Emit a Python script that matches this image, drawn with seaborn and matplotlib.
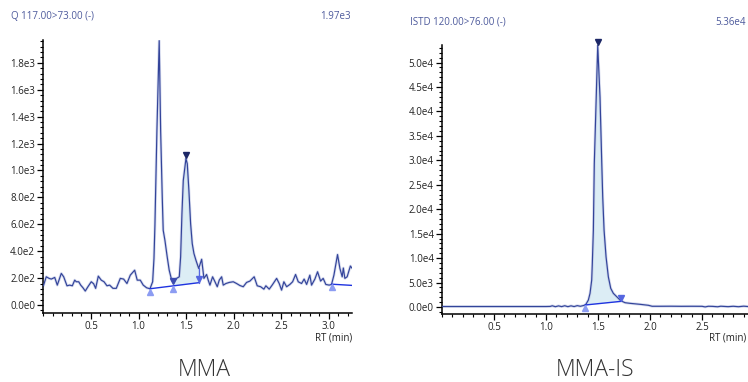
import numpy as np
import matplotlib
matplotlib.use("Agg")
import matplotlib.pyplot as plt
import seaborn as sns
from matplotlib.ticker import FuncFormatter, MultipleLocator, FixedLocator

sns.set_theme(style="ticks")
plt.rcParams["font.family"] = ["Open Sans", "DejaVu Sans"]

# ===========================
# DATA
# ===========================

# MMA trace (Q 117.00>73.00)
mma_rt = [0.0, 0.03, 0.06, 0.083, 0.119, 0.146, 0.188, 0.213, 0.248, 0.276,
          0.304, 0.329, 0.346, 0.371, 0.392, 0.416, 0.44, 0.468, 0.503, 0.528,
          0.549, 0.577, 0.608, 0.637, 0.668, 0.696, 0.731, 0.766, 0.808, 0.843,
          0.878, 0.913, 0.959, 0.986, 1.018, 1.049, 1.085, 1.12, 1.148, 1.162,
          1.172, 1.193, 1.217, 1.232, 1.249, 1.259, 1.277, 1.301, 1.322, 1.348,
          1.365, 1.40, 1.428, 1.442, 1.456, 1.47, 1.498, 1.512, 1.529, 1.547,
          1.564, 1.582, 1.603, 1.632, 1.663, 1.687, 1.715, 1.732, 1.75, 1.778,
          1.803, 1.827, 1.848, 1.873, 1.89, 1.918, 1.953, 1.995, 2.03, 2.065,
          2.10, 2.135, 2.17, 2.215, 2.247, 2.283, 2.317, 2.338, 2.373, 2.404,
          2.451, 2.478, 2.503, 2.527, 2.556, 2.59, 2.619, 2.65, 2.678, 2.713,
          2.74, 2.766, 2.80, 2.818, 2.853, 2.881, 2.913, 2.94, 2.968, 3.003,
          3.028, 3.053, 3.091, 3.116, 3.14, 3.152, 3.168, 3.192, 3.226, 3.243]
mma_int = [143, 210, 198, 193, 205, 148, 235, 210, 143, 148,
           143, 185, 173, 173, 148, 128, 104, 136, 173, 158,
           124, 215, 185, 173, 143, 148, 124, 124, 198, 193,
           160, 222, 259, 185, 185, 148, 128, 121, 173, 346,
           593, 1300, 1965, 1296, 802, 556, 481, 358, 259, 185,
           165, 198, 210, 358, 681, 926, 1089, 1050, 852, 605,
           457, 383, 333, 272, 340, 198, 227, 185, 148, 210,
           173, 136, 185, 210, 148, 160, 168, 173, 160, 145,
           136, 168, 178, 210, 143, 136, 118, 143, 118, 148,
           198, 160, 111, 173, 136, 153, 173, 227, 173, 160,
           193, 153, 222, 148, 193, 247, 178, 198, 153, 148,
           153, 222, 375, 272, 210, 275, 198, 210, 290, 274]

# MMA baselines: (start rt, end rt) / (start int, end int)
mma_base_rt = [[1.12, 1.632], [3.028, 3.243]]
mma_base_int = [[121, 166], [155, 146]]
mma_valley = [1.365, 165]
mma_apex = [1.498, 1089]
mma_fill = [1.365, 1.632]

# MMA-IS trace (ISTD 120.00>76.00)
is_rt = [0.0, 0.25, 0.5, 0.75, 1.0, 1.04, 1.06, 1.09, 1.12, 1.15,
         1.18, 1.21, 1.24, 1.27, 1.30, 1.33, 1.36, 1.375, 1.385, 1.407,
         1.423, 1.439, 1.445, 1.455, 1.464, 1.497, 1.519, 1.536, 1.545, 1.558,
         1.577, 1.599, 1.622, 1.647, 1.68, 1.718, 1.76, 1.808, 1.904, 1.984,
         2.02, 2.1, 2.2, 2.3, 2.4, 2.5, 2.53, 2.56, 2.6, 2.65,
         2.68, 2.75, 2.8, 2.85, 2.9, 2.95, 3.0]
is_int = [100, 100, 100, 100, 100, 120, 250, 60, 230, 80,
          260, 70, 240, 90, 280, 150, 300, 410, 610, 1430,
          2800, 5510, 8900, 15700, 29300, 53500, 42900, 29300, 22500, 15700,
          10270, 6180, 3820, 2800, 2100, 1290, 880, 750, 550, 350,
          150, 150, 160, 140, 150, 140, 20, 150, 130, 50,
          160, 70, 150, 60, 170, 80, 160]

is_base_rt = [[1.375, 1.718]]
is_base_int = [[410, 1150]]
is_apex = [1.497, 53500]
is_fill = [1.375, 1.718]

TRACE = "#33449a"
GLOW = "#b3bce0"
FILL = "#dcedf5"
BASE = "#1f33e0"
UP = "#8c9cf2"
APEX = "#1c2766"
END = "#5566e0"
HEAD = "#4d5a9c"


def sci_fmt(v, pos):
    if abs(v) < 1e-9:
        return "0.0e0"
    e = int(np.floor(np.log10(abs(v)) + 1e-9))
    m = v / 10 ** e
    return f"{m:.1f}e{e}"


def draw_chrom(ax, rt, inten, base_rt, base_int, fill, apex, ymax, ymin,
               xmax, major, minor):
    rt = np.array(rt)
    inten = np.array(inten)

    # peak area fill between trace and first baseline
    b0 = base_rt[0]
    bi0 = base_int[0]
    mask = (rt >= fill[0]) & (rt <= fill[1])
    base_line = np.interp(rt[mask], b0, bi0)
    ax.fill_between(rt[mask], inten[mask], base_line, color=FILL, lw=0, zorder=1)

    # trace with soft glow
    ax.plot(rt, inten, color=GLOW, lw=2.0, alpha=0.55, zorder=2)
    sns.lineplot(x=rt, y=inten, ax=ax, color=TRACE, lw=0.85, zorder=3,
                 estimator=None, sort=False)

    # baselines and markers
    dy = (ymax - ymin) * 0.012
    for brt, bint in zip(base_rt, base_int):
        ax.plot(brt, bint, color=BASE, lw=1.0, zorder=4)
        ax.plot(brt[0], bint[0] - dy, marker="^", ms=5, color=UP,
                ls="none", zorder=5, clip_on=False)

    # end of integrated peak: stem + down triangle
    end_rt = fill[1]
    end_trace = np.interp(end_rt, rt, inten)
    end_base = np.interp(end_rt, b0, bi0)
    ax.plot([end_rt, end_rt], [end_trace, end_base], color=END, lw=1.0, zorder=4)
    ax.plot(end_rt, end_base + dy, marker="v", ms=5, color=END,
            ls="none", zorder=5, clip_on=False)

    # apex marker
    ax.plot(apex[0], apex[1] + dy, marker="v", ms=4.5, color=APEX,
            ls="none", zorder=6, clip_on=False)

    ax.set_xlim(0, xmax)
    ax.set_ylim(ymin, ymax)
    ax.xaxis.set_major_locator(FixedLocator([0.5, 1.0, 1.5, 2.0, 2.5, 3.0]))
    ax.xaxis.set_minor_locator(MultipleLocator(0.1))
    ax.yaxis.set_major_locator(MultipleLocator(major))
    ax.yaxis.set_minor_locator(MultipleLocator(minor))
    ax.yaxis.set_major_formatter(FuncFormatter(sci_fmt))
    ax.xaxis.set_major_formatter(FuncFormatter(lambda v, p: f"{v:.1f}"))
    ax.set_xlabel("")
    ax.set_ylabel("")
    sns.despine(ax=ax)
    for s in ["left", "bottom"]:
        ax.spines[s].set_color("black")
        ax.spines[s].set_linewidth(1.1)
    ax.tick_params(which="major", length=4, width=0.9, labelsize=7,
                   colors="black", labelcolor="#222222", pad=2)
    ax.tick_params(which="minor", length=2, width=0.8, colors="black")


fig = plt.figure(figsize=(7.48, 3.82), dpi=100)
W, H = 748.0, 382.0

ax1 = fig.add_axes([43.4 / W, 1 - 312.7 / H, (352 - 43.4) / W, (312.7 - 40) / H])
draw_chrom(ax1, mma_rt, mma_int, mma_base_rt, mma_base_int, mma_fill,
           mma_apex, 1970, -57, 3.243, 200, 40)
ax1.plot(mma_valley[0], mma_valley[1] + 15, marker="v", ms=5, color="#3d4db0",
         ls="none", zorder=6)
vb = np.interp(mma_valley[0], mma_base_rt[0], mma_base_int[0])
ax1.plot(mma_valley[0], vb - 24, marker="^", ms=5, color=UP, ls="none", zorder=5)

ax2 = fig.add_axes([442 / W, 1 - 314 / H, (752 - 442) / W, (314 - 45) / H])
draw_chrom(ax2, is_rt, is_int, is_base_rt, is_base_int, is_fill,
           is_apex, 53600, -1430, 2.98, 5000, 1000)

# header texts
fig.text(11 / W, 1 - 16.5 / H, "Q 117.00>73.00 (-)", fontsize=7, color=HEAD,
         ha="left", va="center")
fig.text(351 / W, 1 - 16.5 / H, "1.97e3", fontsize=7, color=HEAD,
         ha="right", va="center")
fig.text(410 / W, 1 - 22.5 / H, "ISTD 120.00>76.00 (-)", fontsize=7, color=HEAD,
         ha="left", va="center")
fig.text(746 / W, 1 - 22.5 / H, "5.36e4", fontsize=7, color=HEAD,
         ha="right", va="center")

# axis labels
fig.text(352 / W, 1 - 338 / H, "RT (min)", fontsize=7, color="#222222",
         ha="right", va="center")
fig.text(746 / W, 1 - 338 / H, "RT (min)", fontsize=7, color="#222222",
         ha="right", va="center")

# compound names
fig.text(204 / W, 1 - 370.5 / H, "MMA", fontsize=16.5, color="#333333",
         ha="center", va="center", fontweight="light")
fig.text(595 / W, 1 - 370.5 / H, "MMA-IS", fontsize=16.5, color="#333333",
         ha="center", va="center", fontweight="light")

fig.savefig("out.png", dpi=100)
